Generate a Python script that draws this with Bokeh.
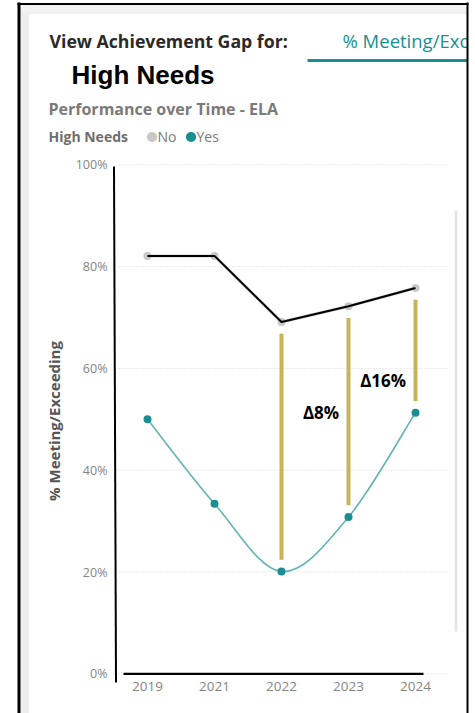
from bokeh.plotting import figure
from bokeh.models import Range1d, FixedTicker, PrintfTickFormatter
from bokeh.core.properties import value
from bokeh.embed import file_html
from bokeh.resources import INLINE

# ---------------- data ----------------
years = ["2019", "2021", "2022", "2023", "2024"]
no_vals = [82.1, 82.1, 69.1, 72.2, 75.8]
yes_vals = [50.0, 33.4, 20.1, 30.8, 51.3]
gap_years = ["2022", "2023", "2024"]
delta_labels = ["Δ8%", "Δ16%"]
delta_years = ["2023", "2024"]
y_ticks = [0, 20, 40, 60, 80, 100]
legend_labels = ["No", "Yes"]

# ---------------- layout helpers (page px -> data) ----------------
FONT = "Open Sans"
X0, DX = 147.0, 67.0
Y0, DY = 673.3, 5.09
FIG_W, FIG_H = 475, 713
L, R, T, B = 110, 452, 160, 681


def dx(px):
    return (px - X0) / DX


def dy(py):
    return (Y0 - py) / DY


TEAL = "#1a8f92"
TEAL_LINE = "#62b5b4"
GRAY_DOT = "#c8c8c8"
GOLD = "#c6b35c"
TXT_GRAY = "#6e6e6e"

p = figure(width=FIG_W, height=FIG_H,
           x_range=Range1d(dx(L), dx(R)), y_range=Range1d(dy(B), dy(T)),
           output_backend="svg", toolbar_location=None,
           min_border_left=L, min_border_right=FIG_W - R,
           min_border_top=T, min_border_bottom=FIG_H - B,
           background_fill_color="white", border_fill_color="white",
           outline_line_color=None)
p.grid.visible = False

xi = list(range(len(years)))

# axes
ya = p.yaxis[0]
ya.ticker = FixedTicker(ticks=y_ticks)
ya.formatter = PrintfTickFormatter(format="%d%%")
ya.axis_line_color = None
ya.major_tick_line_color = None
ya.minor_tick_line_color = None
ya.major_tick_out = 0
ya.major_tick_in = 0
ya.major_label_standoff = 3
ya.major_label_text_font = FONT
ya.major_label_text_font_size = "12.5px"
ya.major_label_text_color = "#858585"
ya.axis_label = "% Meeting/Exceeding"
ya.axis_label_text_font = FONT
ya.axis_label_text_font_style = "bold"
ya.axis_label_text_font_size = "15px"
ya.axis_label_text_color = "#555555"
ya.axis_label_standoff = 9

xa = p.xaxis[0]
xa.ticker = FixedTicker(ticks=xi)
xa.major_label_overrides = {i: y for i, y in enumerate(years)}
xa.axis_line_color = None
xa.major_tick_line_color = None
xa.minor_tick_line_color = None
xa.major_tick_out = 0
xa.major_tick_in = 0
xa.major_label_standoff = 0
xa.major_label_text_font = FONT
xa.major_label_text_font_size = "13.5px"
xa.major_label_text_color = "#858585"

# dotted gridlines
p.segment(x0=[dx(118)] * len(y_ticks), x1=[dx(446)] * len(y_ticks),
          y0=y_ticks, y1=y_ticks, line_color="#d6d6d6", line_width=1,
          line_dash="1 2")

# "No" series
p.line(xi, no_vals, line_color=GRAY_DOT, line_width=3)
p.scatter(xi, no_vals, size=8, fill_color=GRAY_DOT, line_color=None)

# "Yes" series, smooth curve (Catmull-Rom as cubic Bezier)
n = len(xi)
bx0, by0, bx1, by1, bcx0, bcy0, bcx1, bcy1 = ([] for _ in range(8))
for i in range(n - 1):
    a = max(i - 1, 0)
    d = min(i + 2, n - 1)
    bx0.append(xi[i]); by0.append(yes_vals[i])
    bx1.append(xi[i + 1]); by1.append(yes_vals[i + 1])
    bcx0.append(xi[i] + (xi[i + 1] - xi[a]) / 6)
    bcy0.append(yes_vals[i] + (yes_vals[i + 1] - yes_vals[a]) / 6)
    bcx1.append(xi[i + 1] - (xi[d] - xi[i]) / 6)
    bcy1.append(yes_vals[i + 1] - (yes_vals[d] - yes_vals[i]) / 6)
p.bezier(x0=bx0, y0=by0, x1=bx1, y1=by1, cx0=bcx0, cy0=bcy0,
         cx1=bcx1, cy1=bcy1, line_color=TEAL_LINE, line_width=1.6)
p.scatter(xi, yes_vals, size=8, fill_color=TEAL, line_color=None)

# hand-drawn black line over "No"
p.line(xi, no_vals, line_color="black", line_width=2, level="overlay")

# gold gap lines
GAP = 2.3
gi = [years.index(y) for y in gap_years]
p.segment(x0=gi, x1=gi,
          y0=[no_vals[i] - GAP for i in gi], y1=[yes_vals[i] + GAP for i in gi],
          line_color=GOLD, line_width=4, level="overlay")

# delta labels
di = [years.index(y) for y in delta_years]
p.text(x=[i - 0.14 for i in di], y=[dy(412), dy(380)], text=delta_labels,
       text_font=value(FONT), text_font_style="bold", text_font_size="17px",
       text_color="black", text_align="right", text_baseline="middle")

# black hand-drawn axes
p.segment(x0=[-0.5], x1=[-0.47], y0=[dy(166)], y1=[dy(682)],
          line_color="black", line_width=2, level="overlay")
p.segment(x0=[dx(123)], x1=[dx(423)], y0=[0], y1=[0],
          line_color="black", line_width=2.2, level="overlay")

# page decoration: card edge bands, borders, scroll line, tab underline
p.quad(left=[dx(20)], right=[dx(27)], top=[dy(3)], bottom=[dy(714)],
       fill_color="#eeeeee", line_color=None, level="overlay")
p.quad(left=[dx(20)], right=[dx(467)], top=[dy(3)], bottom=[dy(12)],
       fill_color="#f3f3f3", line_color=None, level="overlay")
p.segment(x0=[dx(27.5)], x1=[dx(27.5)], y0=[dy(12)], y1=[dy(714)],
          line_color="#e2e2e2", line_width=1, level="overlay")
p.segment(x0=[dx(27.5)], x1=[dx(467)], y0=[dy(12.5)], y1=[dy(12.5)],
          line_color="#e2e2e2", line_width=1, level="overlay")
p.segment(x0=[dx(455.5)], x1=[dx(455.5)], y0=[dy(210)], y1=[dy(631)],
          line_color="#e3e3e3", line_width=2.5, level="overlay")
p.segment(x0=[dx(307)], x1=[dx(467)], y0=[dy(60)], y1=[dy(60)],
          line_color=TEAL, line_width=3, level="overlay")


# header texts
def header(x, y, txt, size, color, bold=False, font=FONT):
    p.text(x=[dx(x)], y=[dy(y)], text=[txt], text_font=value(font),
           text_font_style="bold" if bold else "normal",
           text_font_size=size, text_color=color,
           text_align="left", text_baseline="middle", level="overlay")


header(49, 40, "View Achievement Gap for:", "17.7px", "#2b2a29", bold=True)
header(342, 40, "% Meeting/Exc", "18.5px", TEAL)
header(71, 74, "High Needs", "26px", "black", bold=True, font="Liberation Sans")
header(48, 108, "Performance over Time - ELA", "16px", "#7a7a7a", bold=True)
header(48, 135.5, "High Needs", "14px", TXT_GRAY, bold=True)
header(157, 135.5, legend_labels[0], "14px", "#7a7a7a")
header(196, 135.5, legend_labels[1], "14px", "#7a7a7a")

# legend dots (zero-length round-capped strokes)
for cx, col in [(151.5, GRAY_DOT), (190.5, TEAL)]:
    p.segment(x0=[dx(cx - 0.1)], x1=[dx(cx + 0.1)], y0=[dy(136.5)],
              y1=[dy(136.5)], line_color=col, line_width=10,
              line_cap="round", level="overlay")

# outer black frame
p.segment(x0=[dx(18.5)], x1=[dx(18.5)], y0=[dy(2)], y1=[dy(714)],
          line_color="black", line_width=3, level="overlay")
p.segment(x0=[dx(17)], x1=[dx(468)], y0=[dy(3.5)], y1=[dy(3.5)],
          line_color="black", line_width=2, level="overlay")
p.segment(x0=[dx(467)], x1=[dx(467)], y0=[dy(2)], y1=[dy(714)],
          line_color="black", line_width=2, level="overlay")

open("out.html", "w").write(file_html(p, INLINE))
